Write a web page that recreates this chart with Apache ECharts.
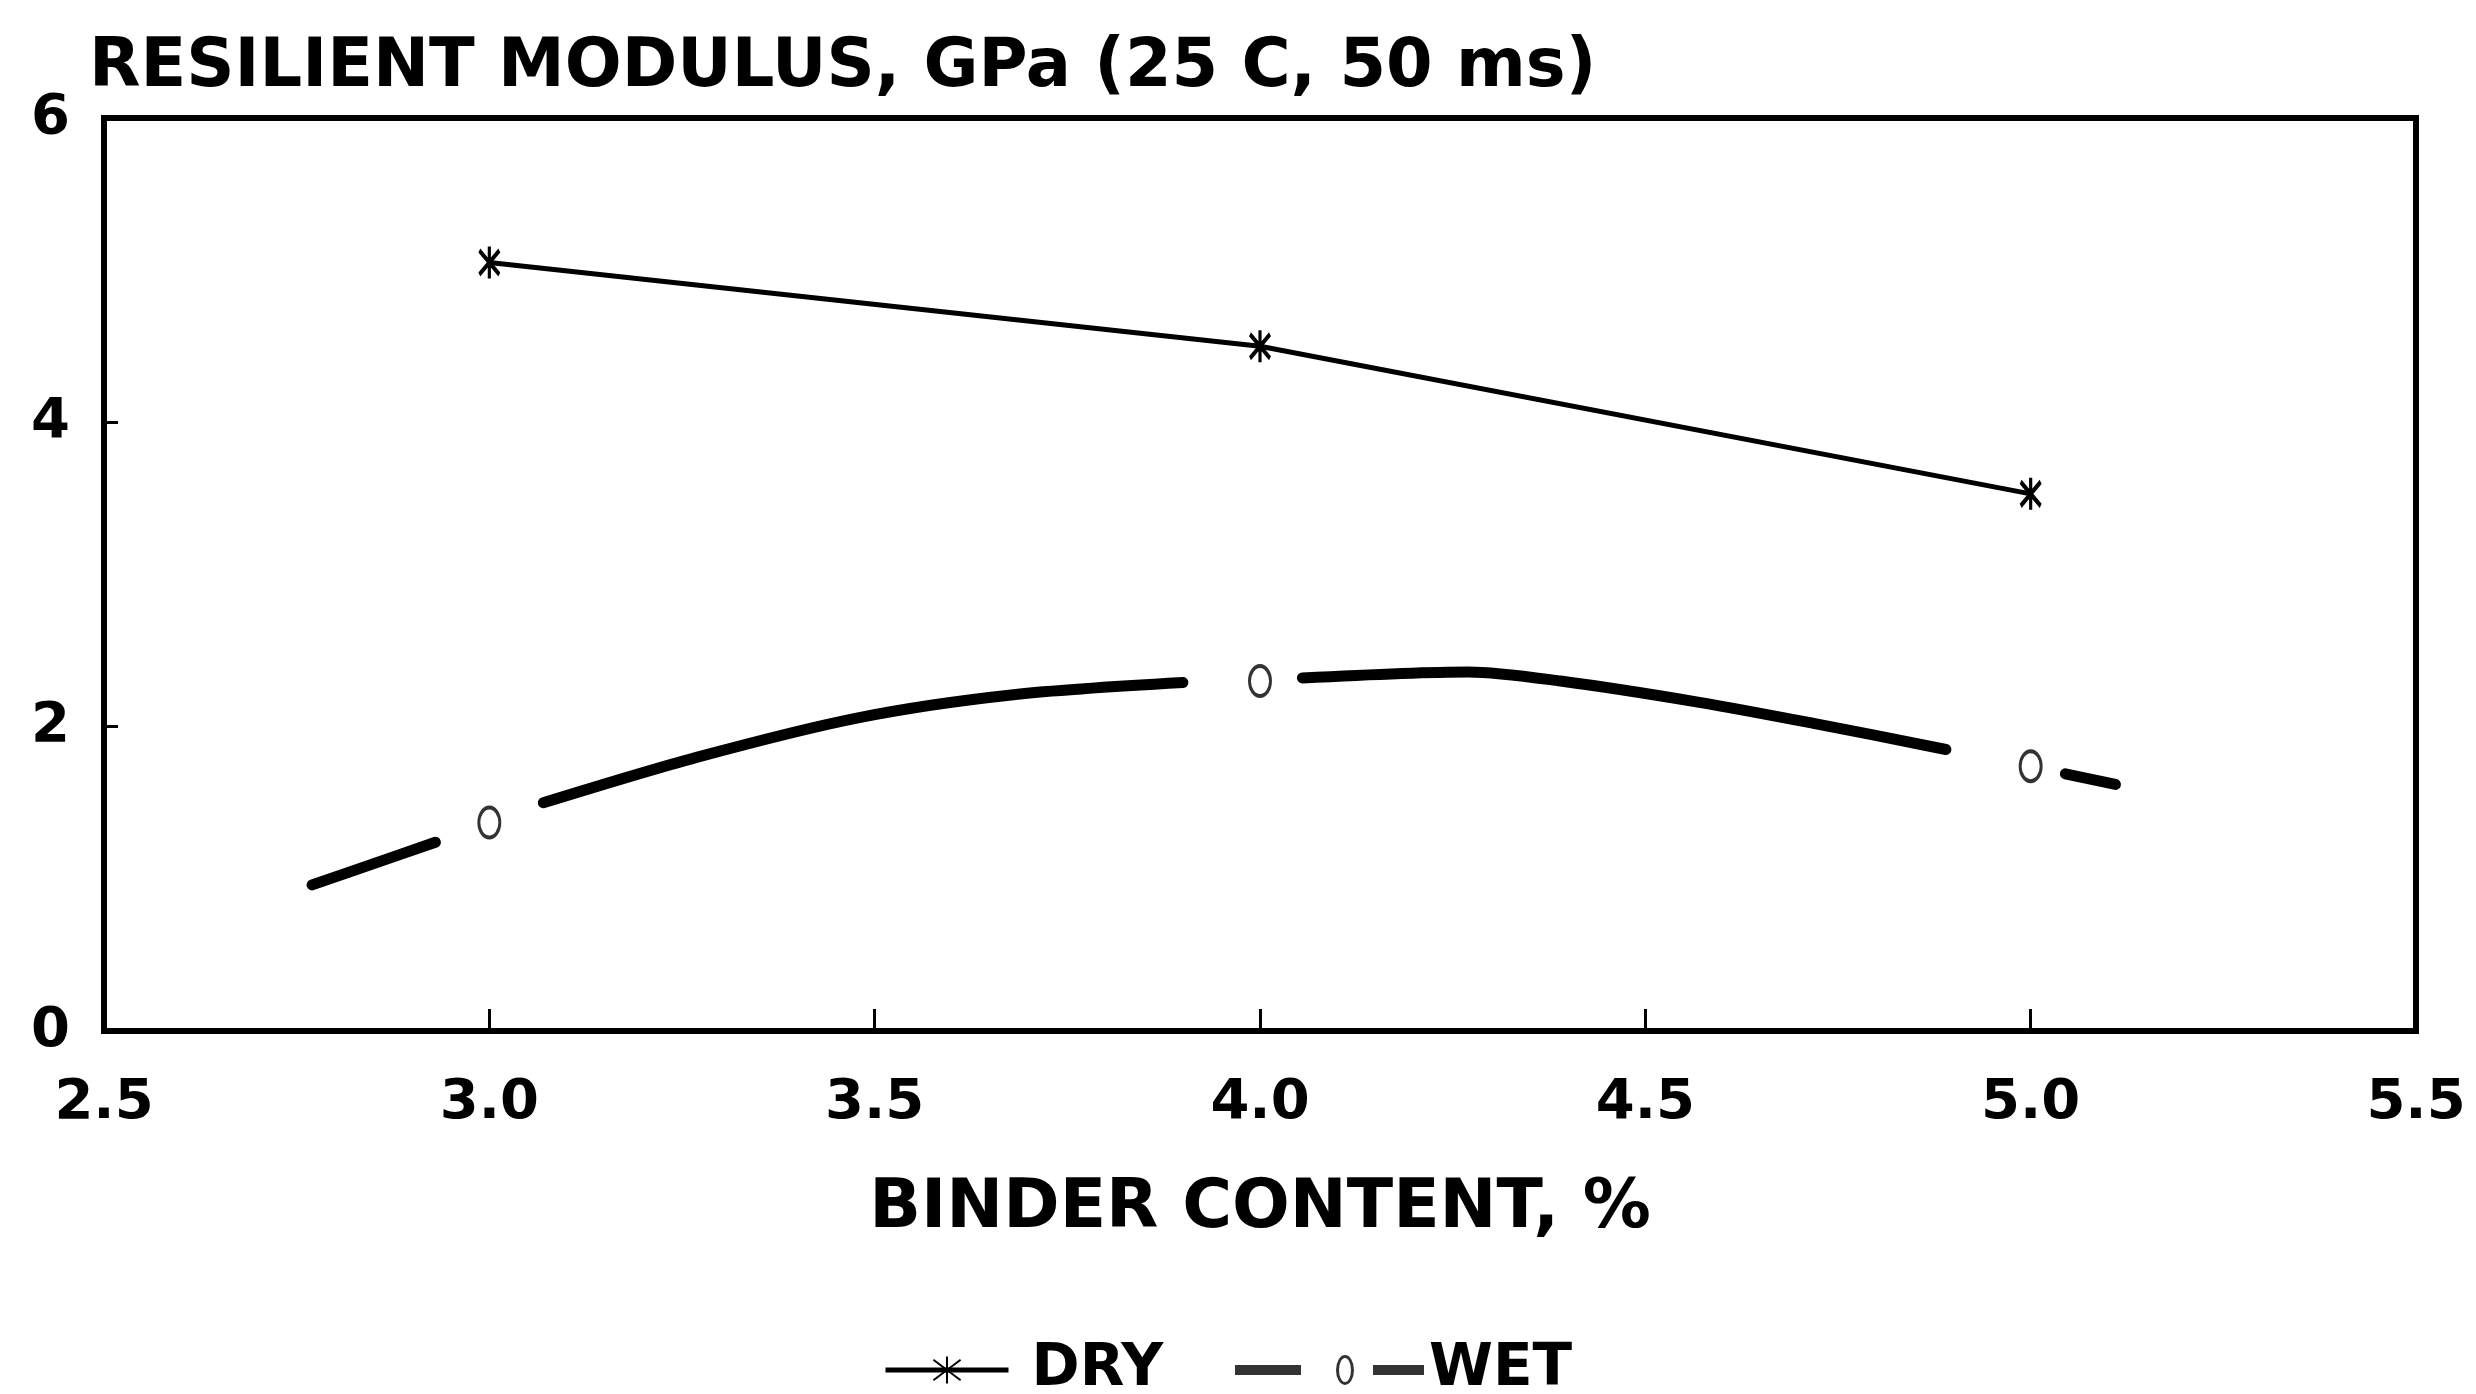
<!DOCTYPE html>
<html>
<head>
<meta charset="utf-8">
<script src="https://cdn.jsdelivr.net/npm/echarts@6/dist/echarts.min.js"></script>
<style>
html,body{margin:0;padding:0;background:#fff;}
#chart{width:2476px;height:1394px;}
</style>
</head>
<body>
<div id="chart"></div>
<script>
// binder content (%) for the measured points
const binder = [3.0, 4.0, 5.0];
// resilient modulus, GPa
const dryModulus = [5.05, 4.5, 3.53];
const wetModulus = [1.37, 2.3, 1.74];
// hand drawn fit through the wet points (null = gap around a marker)
const wetCurveX = [2.77, 2.85, 2.93, 3.0, 3.07, 3.27, 3.48, 3.68, 3.90, 4.0, 4.055, 4.27, 4.39, 4.57, 4.72, 4.89, 5.0, 5.045, 5.11];
const wetCurveY = [0.96, 1.1, 1.24, null, 1.50, 1.80, 2.06, 2.21, 2.29, null, 2.32, 2.36, 2.30, 2.16, 2.02, 1.85, null, 1.69, 1.62];

const FONT = "DejaVu Sans";
const starPath = "path://M0 0 L12 24 M12 0 L0 24 M6 -4 L6 28";
const ellipsePath = "path://M0 -15 A9 15 0 1 1 0 15 A9 15 0 1 1 0 -15 Z";
const wetIcon = "path://M0 11 L66 11 L66 21 L0 21 Z M110 1 A9 15 0 1 1 110 31 A9 15 0 1 1 110 1 Z M110 4 A6 12 0 1 0 110 28 A6 12 0 1 0 110 4 Z M138 11 L189 11 L189 21 L138 21 Z";

let myChart = echarts.init(document.getElementById("chart"));

myChart.setOption({
    backgroundColor: "#fff",
    animation: false,
    title: {
        text: "RESILIENT MODULUS, GPa (25 C, 50 ms)",
        left: 84,
        top: 30,
        textStyle: {fontFamily: FONT, fontWeight: "bold", fontSize: 67, color: "#000"}
    },
    legend: [
        {
            data: [{name: "DRY", lineStyle: {width: 5}}],
            left: 878,
            top: 1336,
            itemWidth: 123,
            itemHeight: 34,
            textStyle: {fontFamily: FONT, fontWeight: "bold", fontSize: 58, color: "#000", padding: [0, 0, 0, 18]}
        },
        {
            data: [{name: "WET", icon: wetIcon, itemStyle: {color: "#000", borderWidth: 0}}],
            left: 1230,
            top: 1336,
            itemWidth: 189,
            itemHeight: 30,
            textStyle: {fontFamily: FONT, fontWeight: "bold", fontSize: 58, color: "#000"}
        }
    ],
    grid: {
        left: 104,
        right: 60,
        top: 118,
        bottom: 363,
        show: true,
        borderColor: "#000",
        borderWidth: 6,
        backgroundColor: "transparent"
    },
    xAxis: {
        type: "value",
        min: 2.5,
        max: 5.5,
        interval: 0.5,
        name: "BINDER CONTENT, %",
        nameLocation: "middle",
        nameGap: 144,
        nameTextStyle: {fontFamily: FONT, fontWeight: "bold", fontSize: 68, color: "#000"},
        axisLine: {lineStyle: {color: "#000", width: 6}},
        axisTick: {inside: true, length: 22, lineStyle: {color: "#000", width: 3}},
        splitLine: {show: false},
        axisLabel: {
            margin: 44,
            fontFamily: FONT, fontWeight: "bold", fontSize: 56, color: "#000",
            formatter: v => v.toFixed(1)
        }
    },
    yAxis: {
        type: "value",
        min: 0,
        max: 6,
        interval: 2,
        axisLine: {show: true, lineStyle: {color: "#000", width: 4}},
        axisTick: {show: true, inside: true, length: 14, lineStyle: {color: "#000", width: 3}},
        splitLine: {show: false},
        axisLabel: {margin: 34, fontFamily: FONT, fontWeight: "bold", fontSize: 56, color: "#000"}
    },
    series: [
        {
            name: "DRY",
            type: "line",
            data: binder.map((x, i) => [x, dryModulus[i]]),
            symbol: starPath,
            symbolSize: [20, 32],
            symbolKeepAspect: false,
            itemStyle: {color: "#000", borderColor: "#000", borderWidth: 4},
            lineStyle: {color: "#000", width: 5}
        },
        {
            name: "WET",
            type: "scatter",
            data: binder.map((x, i) => [x, wetModulus[i]]),
            symbol: ellipsePath,
            symbolSize: [21, 30],
            symbolKeepAspect: false,
            itemStyle: {color: "#fff", borderColor: "#000", borderWidth: 3.5},
            z: 3
        },
        {
            name: "WET",
            type: "line",
            data: wetCurveX.map((x, i) => [x, wetCurveY[i] === null ? "-" : wetCurveY[i]]),
            smooth: 0.3,
            showSymbol: false,
            connectNulls: false,
            lineStyle: {color: "#000", width: 11, cap: "round"},
            itemStyle: {color: "#000"}
        }
    ]
});
</script>
</body>
</html>
